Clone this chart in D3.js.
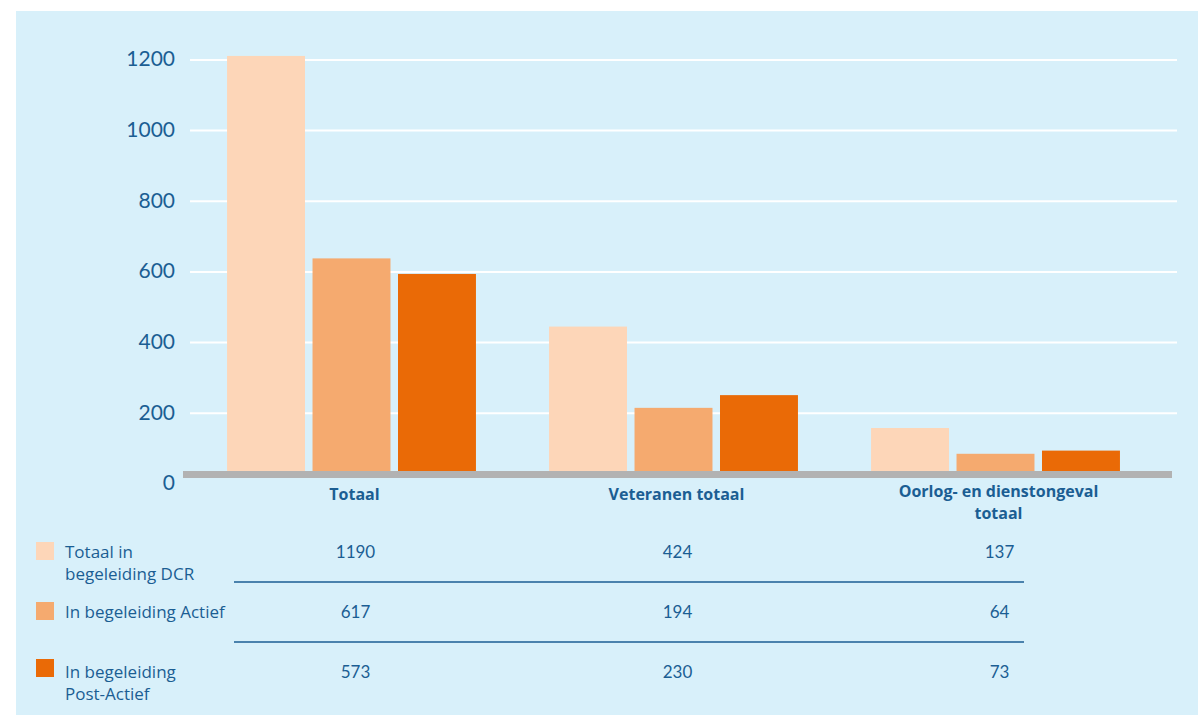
<!DOCTYPE html>
<html>
<head>
<meta charset="utf-8">
<script src="https://cdn.jsdelivr.net/npm/d3@7"></script>
<style>
  html, body { margin: 0; padding: 0; background: #fff; }
  svg { display: block; font-family: "Open Sans", Lato, sans-serif; }
  .num { font-family: Lato, "Open Sans", sans-serif; }
</style>
</head>
<body>
<div id="chart"></div>
<script>
// Chart data
const categories = ["Totaal", "Veteranen totaal", "Oorlog- en dienstongeval totaal"];
const categoryLines = [["Totaal"], ["Veteranen totaal"], ["Oorlog- en dienstongeval", "totaal"]];
const series = ["Totaal in begeleiding DCR", "In begeleiding Actief", "In begeleiding Post-Actief"];
const seriesLines = [["Totaal in", "begeleiding DCR"], ["In begeleiding Actief"], ["In begeleiding", "Post-Actief"]];
const valuesDCR = [1190, 424, 137];
const valuesActief = [617, 194, 64];
const valuesPostActief = [573, 230, 73];
const yTicks = [0, 200, 400, 600, 800, 1000, 1200];

const seriesValues = [valuesDCR, valuesActief, valuesPostActief];
const colors = ["#fdd6b8", "#f5aa6f", "#ea6a06"];
const textColor = "#1b5e93";

const W = 1198, H = 715;

const svg = d3.select("#chart").append("svg")
  .attr("width", W)
  .attr("height", H);

// panel background
svg.append("rect")
  .attr("x", 16).attr("y", 11)
  .attr("width", W - 16).attr("height", H - 11)
  .attr("fill", "#d8f0fa");

// scales
const x0 = d3.scaleBand()
  .domain(categories)
  .range([190.5, 1156.5])
  .paddingInner(0.227)
  .paddingOuter(0.1135);

const x1 = d3.scaleBand()
  .domain(series)
  .range([0, x0.bandwidth()])
  .paddingInner(0.088);

const y = d3.scaleLinear()
  .domain([0, 1200])
  .range([476.4, 52.4]);

// gridlines + y labels (sit a few pixels lower than the bars in the original)
const yAxis = svg.append("g")
  .attr("transform", "translate(190,7)")
  .call(d3.axisLeft(y).tickValues(yTicks).tickSize(-987).tickPadding(15).tickFormat(d3.format("d")));

yAxis.select(".domain").remove();
yAxis.selectAll(".tick line")
  .attr("stroke", "#fff")
  .attr("stroke-width", 2)
  .attr("display", d => d === 0 ? "none" : null);
yAxis.selectAll(".tick text")
  .attr("class", "num")
  .attr("fill", textColor)
  .style("font-size", "21px")
  .style("font-family", "Lato, 'Open Sans', sans-serif")
  .attr("dy", "0.3em");

// bars
const rows = categories.map((c, i) => ({
  cat: c,
  vals: series.map((s, j) => ({ s, v: seriesValues[j][i], color: colors[j] }))
}));

const groups = svg.append("g").selectAll("g")
  .data(rows)
  .join("g")
  .attr("transform", d => `translate(${x0(d.cat)},0)`);

groups.selectAll("rect")
  .data(d => d.vals)
  .join("rect")
  .attr("x", d => x1(d.s))
  .attr("width", x1.bandwidth())
  .attr("y", d => y(d.v))
  .attr("height", d => y(0) - y(d.v))
  .attr("fill", d => d.color);

// baseline bar
svg.append("rect")
  .attr("x", 183)
  .attr("y", 471)
  .attr("width", 989)
  .attr("height", 7)
  .attr("fill", "#b2b2b2");

// category labels (one text per line)
const catLabels = svg.append("g");
categories.forEach((c, i) => {
  categoryLines[i].forEach((line, k) => {
    catLabels.append("text")
      .attr("x", x0(c) + x0.bandwidth() / 2 + 3)
      .attr("y", (categoryLines[i].length > 1 ? 497 : 500) + k * 22)
      .attr("text-anchor", "middle")
      .attr("fill", textColor)
      .style("font-size", "16px")
      .style("font-weight", "bold")
      .text(line);
  });
});

// data table below
const rowY = d3.scalePoint()
  .domain(series)
  .range([558, 678]);

const table = svg.append("g");

series.forEach((s, j) => {
  const by = rowY(s);
  table.append("rect")
    .attr("x", 36)
    .attr("y", by - (j === 2 ? 19 : 16))
    .attr("width", 18)
    .attr("height", 18)
    .attr("fill", colors[j]);

  const t = table.append("text")
    .attr("x", 65)
    .attr("y", by)
    .attr("fill", textColor)
    .style("font-size", "17px");
  seriesLines[j].forEach((line, k) => {
    t.append("tspan").attr("x", 65).attr("dy", k === 0 ? 0 : 22).text(line);
  });

  table.selectAll(null)
    .data(seriesValues[j])
    .join("text")
    .attr("class", "num")
    .attr("x", (d, i) => x0(categories[i]) + x0.bandwidth() / 2 + 4)
    .attr("y", by)
    .attr("text-anchor", "middle")
    .attr("fill", textColor)
    .style("font-size", "17px")
    .text(d => d);

  if (j < series.length - 1) {
    table.append("line")
      .attr("x1", 234)
      .attr("x2", 1024)
      .attr("y1", by + 24)
      .attr("y2", by + 24)
      .attr("stroke", textColor)
      .attr("stroke-width", 1.5);
  }
});
</script>
</body>
</html>
